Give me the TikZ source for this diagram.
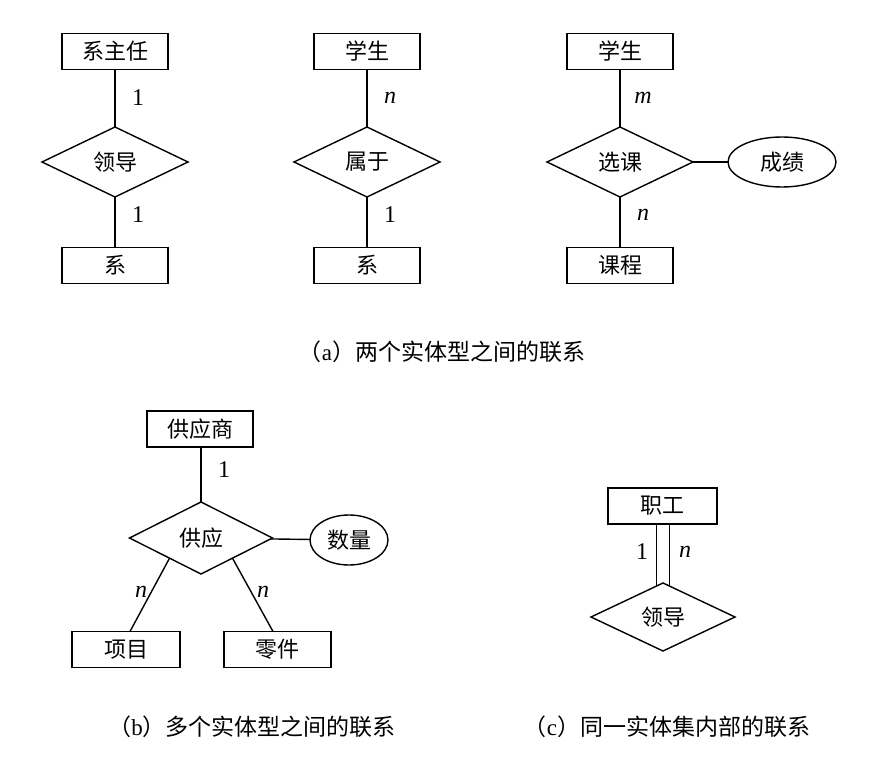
\documentclass[tikz,border=0pt]{standalone}
\usepackage{fontspec}
\setmainfont{Liberation Serif}
\newfontfamily\cjk{Noto Sans CJK SC}
\usetikzlibrary{shapes.geometric,calc}
\tikzset{
  every node/.style={outer sep=0pt},
  ent/.style={draw, line width=1.4pt, rectangle, minimum width=106pt, minimum height=36pt, inner sep=0pt, font=\cjk\fontsize{22}{24}\selectfont},
  rel/.style={draw, line width=1.4pt, diamond, minimum width=146pt, minimum height=70pt, inner sep=0pt, font=\cjk\fontsize{22}{24}\selectfont},
  attr/.style={draw, line width=1.4pt, ellipse, minimum width=108pt, minimum height=50pt, inner sep=0pt, font=\cjk\fontsize{22}{24}\selectfont},
  lnk/.style={line width=1.4pt},
  card/.style={font=\fontsize{24}{26}\selectfont},
  captext/.style={font=\fontsize{23}{25}\selectfont}
}
\begin{document}
\begin{tikzpicture}[x=1pt,y=-1pt]
\useasboundingbox (0,0) rectangle (876,759);
% (a) left
\node[ent] (a1) at (115,51.5) {系主任};
\node[rel] (ad1) at (115,162) {领导};
\node[ent] (a2) at (115,265.5) {系};
\draw[lnk] (a1) -- (ad1);
\draw[lnk] (ad1) -- (a2);
\node[card] (la1) at (138,98) {1};
\node[card] (la2) at (138,215) {1};
% (a) middle
\node[ent] (b1) at (367,51.5) {学生};
\node[rel] (bd1) at (367,162) {属于};
\node[ent] (b2) at (367,265.5) {系};
\draw[lnk] (b1) -- (bd1);
\draw[lnk] (bd1) -- (b2);
\node[card] (lb1) at (390,98) {\textit{n}};
\node[card] (lb2) at (390,215) {1};
% (a) right
\node[ent] (c1) at (620,51.5) {学生};
\node[rel] (cd1) at (620,162) {选课};
\node[ent] (c2) at (620,265.5) {课程};
\node[attr] (ca) at (782,162) {成绩};
\draw[lnk] (c1) -- (cd1);
\draw[lnk] (cd1) -- (c2);
\draw[lnk] (cd1) -- (ca);
\node[card] (lc1) at (643,98) {\textit{m}};
\node[card] (lc2) at (643,215) {\textit{n}};
\node[captext] (capa) at (442,352) {{\cjk （}a{\cjk ）两个实体型之间的联系}};
% (b)
\node[ent] (s) at (200,429) {供应商};
\node[rel,minimum width=143pt,minimum height=72pt] (sd) at (201,538) {供应};
\node[attr,minimum width=78pt] (sa) at (349,540) {数量};
\node[ent,minimum width=108pt] (xm) at (126,649.5) {项目};
\node[ent,minimum width=107pt] (lj) at (277.5,649.5) {零件};
\draw[lnk] (sd.north) -- (sd.north |- s.south);
\draw[lnk] (sd) -- (sa);
\draw[lnk] ($(sd.west)!0.56!(sd.south)$) -- ([xshift=4pt]xm.north);
\draw[lnk] ($(sd.south)!0.44!(sd.east)$) -- ([xshift=-4.5pt]lj.north);
\node[card] (ls1) at (224,470) {1};
\node[card] (ls2) at (141,592) {\textit{n}};
\node[card] (ls3) at (263,592) {\textit{n}};
\node[captext] (capb) at (252,727) {{\cjk （}b{\cjk ）多个实体型之间的联系}};
% (c)
\node[ent,minimum width=109pt] (zg) at (662.5,506) {职工};
\node[rel,minimum width=144pt,minimum height=68pt] (ld) at (663,617) {领导};
\coordinate (p1) at ($(ld.north)!0.09!(ld.west)$);
\coordinate (p2) at ($(ld.north)!0.09!(ld.east)$);
\draw[lnk] (p1) -- (p1 |- zg.south);
\draw[lnk] (p2) -- (p2 |- zg.south);
\node[card] (lz1) at (642,552) {1};
\node[card] (lz2) at (685,552) {\textit{n}};
\node[captext] (capc) at (667,727) {{\cjk （}c{\cjk ）同一实体集内部的联系}};
\end{tikzpicture}
\end{document}
